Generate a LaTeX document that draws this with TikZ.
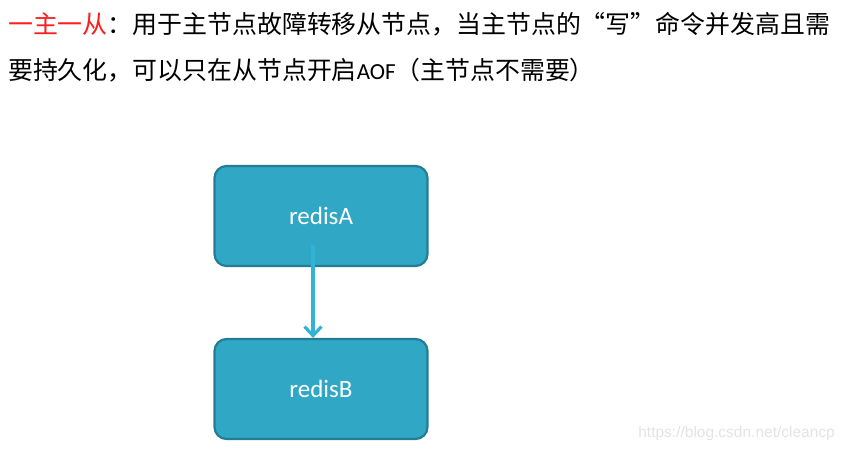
\documentclass[tikz,border=0pt]{standalone}
\usepackage{fontspec}
\usepackage{xcolor}
\usepackage{tikz}
\usetikzlibrary{arrows.meta,positioning}
\newfontfamily\cjk{Noto Sans CJK SC}
\newfontfamily\calib{Carlito}
\newfontfamily\wmark{Liberation Sans}
\definecolor{boxfill}{RGB}{48,167,197}
\definecolor{boxedge}{RGB}{35,125,148}
\definecolor{linkblue}{RGB}{50,178,212}
\definecolor{mastred}{RGB}{250,30,30}

\begin{document}
\begin{tikzpicture}[
  x=1pt,
  y=-1pt,
  server/.style={
    draw=boxedge,
    line width=2.2pt,
    rounded corners=12pt,
    fill=boxfill,
    minimum width=213pt,
    minimum height=100pt,
    text=white,
    font=\calib\fontsize{25}{28}\selectfont
  },
  link/.style={-{Straight Barb[length=9pt,width=17pt,line width=3.2pt]}, line width=3.6pt, color=linkblue},
  desc/.style={anchor=west, inner sep=0pt, font=\cjk\fontsize{24.9}{28}\selectfont}
]
  \useasboundingbox (0,0) rectangle (845,454);

  \node[desc] (line1) at (8,24)
    {\textcolor{mastred}{一主一从}：用于主节点故障转移从节点，当主节点的“写”命令并发高且需};
  \node[desc] (line2) at (8,70)
    {要持久化，可以只在从节点开启{\calib\fontsize{23}{28}\selectfont AOF}（主节点不需要）};

  \node[server] (redisA) at (321,216) {redisA};
  \node[server] (redisB) at (321,389) {redisB};

  \draw[link] ([xshift=-8pt,yshift=22pt]redisA.south) -- ([xshift=-8pt]redisB.north);

  \node[anchor=east, inner sep=0pt, text=gray!22, font=\wmark\fontsize{15.5}{18}\selectfont]
    (mark) at (835,433) {https://blog.csdn.net/cleancp};
\end{tikzpicture}
\end{document}
